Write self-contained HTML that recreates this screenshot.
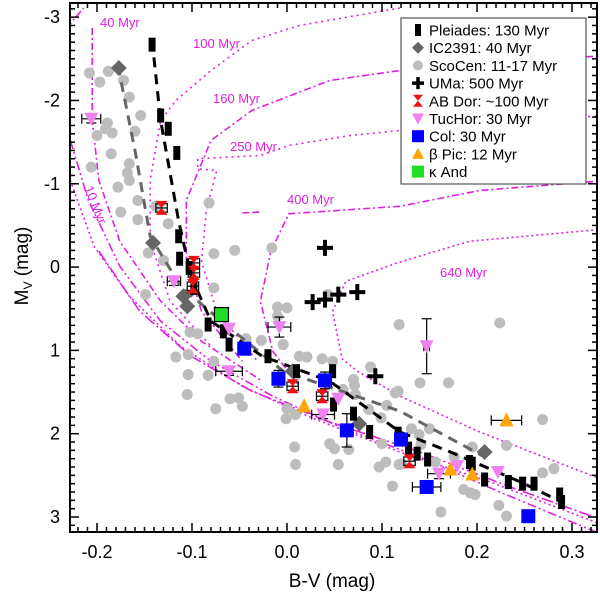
<!DOCTYPE html>
<html><head><meta charset="utf-8"><style>
body{margin:0;background:#fff}
svg text{font-family:"Liberation Sans",sans-serif}
</style></head><body>
<svg id="chart" width="600" height="596" xmlns="http://www.w3.org/2000/svg"></svg>
<script>
const pleBV=[-0.142,-0.133,-0.125,-0.116,-0.114,-0.113,-0.103,-0.098,-0.083,-0.067,-0.061,-0.020,0.010,0.048,0.049,0.070,0.087,0.117,0.128,0.137,0.148,0.192,0.195,0.208,0.233,0.248,0.260,0.287,0.289];
const pleMV=[-2.67,-1.82,-1.66,-1.37,-0.37,-0.10,0.01,0.25,0.69,0.77,0.93,1.07,1.25,1.25,1.65,1.76,1.98,2.00,2.18,2.24,2.31,2.34,2.36,2.55,2.58,2.60,2.60,2.73,2.82];
const icBV=[-0.177,-0.141,-0.109,-0.105,0.006,0.076,0.208];
const icMV=[-2.39,-0.29,0.35,0.47,1.25,1.88,2.22];
const scoBV=[-0.208,-0.197,-0.188,-0.172,-0.166,-0.154,-0.189,-0.191,-0.200,-0.184,-0.160,-0.185,-0.166,-0.206,-0.168,-0.166,-0.178,-0.157,-0.175,-0.157,-0.138,-0.125,-0.082,-0.077,-0.055,-0.016,-0.146,-0.130,-0.077,-0.149,-0.117,-0.104,-0.105,-0.075,-0.060,-0.051,-0.047,-0.104,-0.083,-0.102,-0.094,-0.077,-0.010,-0.010,0.000,-0.027,-0.004,0.013,0.021,0.037,0.048,-0.043,0.000,0.009,-0.001,0.008,0.009,0.045,0.050,0.065,0.054,0.059,0.070,0.071,0.072,0.088,0.099,0.097,0.104,0.111,0.118,0.117,0.086,0.118,0.043,0.224,0.140,0.170,0.114,0.105,0.131,0.139,0.150,0.141,0.100,0.121,0.186,0.193,0.198,0.162,0.223,0.231,0.231,0.269,0.281,0.269,0.195,0.176,0.156];
const scoMV=[-2.33,-2.22,-2.35,-2.24,-2.04,-1.82,-1.73,-1.66,-1.58,-1.61,-1.63,-1.36,-1.24,-1.20,-1.13,-1.04,-0.96,-0.80,-0.66,-0.57,-0.73,-0.52,-0.77,-0.16,-0.20,-0.23,-0.17,-0.08,0.25,0.33,1.08,1.05,1.53,1.70,1.58,1.57,1.67,1.29,1.30,0.78,0.80,1.13,0.48,0.59,0.49,0.88,0.93,1.07,1.08,1.10,1.13,0.86,1.70,1.77,1.82,2.16,2.37,2.12,2.18,2.19,2.37,1.47,1.35,1.42,1.53,1.20,1.81,2.40,2.34,2.63,0.69,1.49,1.71,2.37,0.33,0.67,1.39,1.39,1.51,1.66,1.94,2.01,1.94,2.13,2.12,2.36,2.67,2.71,2.73,2.94,2.86,2.99,2.14,1.83,2.42,2.47,2.16,2.28,2.34];
const umaBV=[0.027,0.040,0.054,0.074,0.093,0.040];
const umaMV=[0.42,0.39,0.33,0.30,1.31,-0.23];
const abBV=[-0.132,-0.098,-0.098,-0.099,0.006,0.037,0.129];
const abMV=[-0.71,-0.05,0.07,0.23,1.43,1.55,2.33];
const tucBV=[-0.206,-0.119,-0.061,-0.008,-0.061,0.054,0.038,0.147,0.160,0.179,0.222];
const tucMV=[-1.78,0.17,0.74,0.72,1.25,1.58,1.77,0.95,2.48,2.39,2.46];
const tucXE=[0.010,0.007,0,0.012,0.014,0,0.012,0.003,0.012,0,0];
const tucYE=[0.05,0.05,0,0.12,0.05,0,0.05,0.33,0.06,0,0];
const colBV=[-0.045,-0.009,0.040,0.063,0.120,0.147,0.254];
const colMV=[0.98,1.34,1.36,1.96,2.07,2.64,2.99];
const colXE=[0,0,0.005,0,0,0.015,0];
const colYE=[0,0.1,0.1,0.2,0,0,0];
const bpBV=[0.018,0.231,0.195,0.172];
const bpMV=[1.67,1.84,2.49,2.43];
const bpXE=[0,0.016,0,0];
const kBV=[-0.069];
const kMV=[0.57];
const pleLineBV=[-0.142,-0.133,-0.114,-0.101,-0.080,-0.026,0.045,0.119,0.172,0.246,0.289];
const pleLineMV=[-2.72,-1.76,-0.55,0.11,0.65,1.07,1.37,1.98,2.22,2.58,2.82];
const icLineBV=[-0.178,-0.160,-0.144,-0.112,-0.069,-0.004,0.119,0.208];
const icLineMV=[-2.42,-1.40,-0.37,0.23,0.65,1.25,1.73,2.28];
const isoBV=[
 [-0.232,-0.214],
 [-0.205,-0.205,-0.198,-0.176,-0.133,-0.090,-0.026],
 [0.119,0.013,-0.037,-0.080,-0.117,-0.133,-0.144,-0.144,-0.123,-0.080],
 [0.338,0.224,0.119,0.045,-0.037,-0.080,-0.106,-0.106,-0.090,-0.047],
 [0.338,0.172,0.067,0.002,-0.028,-0.094,-0.094,-0.074,-0.085,-0.090,-0.074,-0.031],
 [0.338,0.203,0.119,0.002,-0.017,-0.028,-0.015,0.013],
 [-0.047,-0.029],
 [0.338,0.192,0.116,0.062,0.048,0.058,0.074,0.119,0.203,0.338],
 [-0.228,-0.209,-0.176,-0.133,-0.080,-0.015,0.056,0.140,0.224,0.338],
 [-0.230,-0.203,-0.166,-0.112,-0.047,0.024,0.119,0.214,0.338],
 [-0.198,-0.155,-0.101,-0.037,0.045,0.140,0.235,0.338]
];
const isoMV=[
 [-2.87,-3.11],
 [-2.87,-1.76,-1.04,-0.31,0.41,0.89,1.37],
 [-3.11,-2.90,-2.72,-2.36,-2.00,-1.76,-1.04,-0.31,0.41,0.95],
 [-2.54,-2.46,-2.36,-2.24,-1.88,-1.52,-0.80,-0.07,0.53,1.13],
 [-1.82,-1.70,-1.58,-1.46,-1.34,-1.30,-1.18,-1.16,-0.67,-0.07,0.53,1.13],
 [-1.04,-0.92,-0.73,-0.64,-0.19,0.41,1.01,1.43],
 [-0.65,-0.66],
 [-0.46,-0.31,-0.05,0.17,0.53,1.10,1.25,1.55,1.98,2.58],
 [-1.52,-0.80,-0.01,0.65,1.13,1.55,1.92,2.28,2.70,3.24],
 [-1.10,-0.25,0.35,0.95,1.43,1.80,2.22,2.58,3.12],
 [-0.19,0.53,1.07,1.49,1.86,2.22,2.64,3.06]
];
const isoDash=["7,3,2,3","7,3,2,3","2,4","7,3,2,3","2,4","7,3,2,3","7,3","2,3","9,3,2,3,2,3","2,3","12,3,2,3"];
const xTicks=[-0.2,-0.1,0.0,0.1,0.2,0.3];
const xTickLabels=["-0.2","-0.1","0.0","0.1","0.2","0.3"];
const yTicks=[-3,-2,-1,0,1,2,3];
const yTickLabels=["-3","-2","-1","0","1","2","3"];

const L=70,R=597,T=3,B=532,X0=-0.2284,X1=0.3263,Y0=-3.17,Y1=3.18;
const X=v=>L+(v-X0)/(X1-X0)*(R-L);
const Y=v=>T+(v-Y0)/(Y1-Y0)*(B-T);
const svg=document.getElementById('chart');
const NS='http://www.w3.org/2000/svg';
function mk(tag,at,parent){const e=document.createElementNS(NS,tag);for(const k in at)e.setAttribute(k,at[k]);(parent||svg).appendChild(e);return e;}
const defs=mk('defs',{});const cp=mk('clipPath',{id:'clip'},defs);mk('rect',{x:L,y:T,width:R-L,height:B-T},cp);
const plot=mk('g',{'clip-path':'url(#clip)'});



isoBV.forEach((bv,i)=>{
 const p=mk('polyline',{points:bv.map((b,j)=>X(b)+','+Y(isoMV[i][j])).join(' '),fill:'none',stroke:'#e020e0','stroke-width':1.6,'stroke-dasharray':isoDash[i]},plot);
 
 
});
scoBV.forEach((b,i)=>{
 const c=mk('circle',{cx:X(b),cy:Y(scoMV[i]),r:5.5,fill:'#bdbdbd'},plot);
 
 
});
const l1=mk('polyline',{points:icLineBV.map((b,j)=>X(b)+','+Y(icLineMV[j])).join(' '),fill:'none',stroke:'#666','stroke-width':3,'stroke-dasharray':'10,7'},plot);


const l2=mk('polyline',{points:pleLineBV.map((b,j)=>X(b)+','+Y(pleLineMV[j])).join(' '),fill:'none',stroke:'#000','stroke-width':3,'stroke-dasharray':'10,7'},plot);


icBV.forEach((b,i)=>{
 const x=X(b),y=Y(icMV[i]);
 const d=mk('polygon',{points:`${x},${y-8} ${x+8},${y} ${x},${y+8} ${x-8},${y}`,fill:'#666'},plot);
 
 
});
pleBV.forEach((b,i)=>{
 const r=mk('rect',{x:X(b)-3.5,y:Y(pleMV[i])-7,width:7,height:14,fill:'#000'},plot);
 
 
});
function errbar(x,y,xe,ye){
 const g=mk('g',{stroke:'#000','stroke-width':1.2},plot);
 
 
 if(xe>0){const a=X(x-xe),b=X(x+xe);mk('line',{x1:a,x2:b,y1:Y(y),y2:Y(y)},g);mk('line',{x1:a,x2:a,y1:Y(y)-5,y2:Y(y)+5},g);mk('line',{x1:b,x2:b,y1:Y(y)-5,y2:Y(y)+5},g);}
 if(ye>0){const a=Y(y-ye),b=Y(y+ye);mk('line',{x1:X(x),x2:X(x),y1:a,y2:b},g);mk('line',{x1:X(x)-5,x2:X(x)+5,y1:a,y2:a},g);mk('line',{x1:X(x)-5,x2:X(x)+5,y1:b,y2:b},g);}
}
umaBV.forEach((b,i)=>{
 const x=X(b),y=Y(umaMV[i]);
 const p=mk('path',{d:`M${x-8},${y}H${x+8}M${x},${y-8}V${y+8}`,stroke:'#000','stroke-width':4},plot);
 
 
});
abBV.forEach((b,i)=>{
 const x=X(b),y=Y(abMV[i]);
 errbar(b,abMV[i],0.006,0.05);
 const p=mk('polygon',{points:`${x-6},${y-7} ${x+6},${y-7} ${x},${y} ${x+6},${y+7} ${x-6},${y+7} ${x},${y}`,fill:'#ee1111'},plot);
 
 
});
tucBV.forEach((b,i)=>{
 errbar(b,tucMV[i],tucXE[i],tucYE[i]);
 const x=X(b),y=Y(tucMV[i]);
 const p=mk('polygon',{points:`${x-7},${y-6} ${x+7},${y-6} ${x},${y+7}`,fill:'#ee82ee'},plot);
 
 
});
colBV.forEach((b,i)=>{
 errbar(b,colMV[i],colXE[i],colYE[i]);
 const r=mk('rect',{x:X(b)-7,y:Y(colMV[i])-7,width:14,height:14,fill:'#0000ff'},plot);
 
 
});
bpBV.forEach((b,i)=>{
 errbar(b,bpMV[i],bpXE[i],0);
 const x=X(b),y=Y(bpMV[i]);
 const p=mk('polygon',{points:`${x-7},${y+6} ${x+7},${y+6} ${x},${y-8}`,fill:'#ffa500'},plot);
 
 
});
kBV.forEach((b,i)=>{
 const r=mk('rect',{x:X(b)-7,y:Y(kMV[i])-7,width:14,height:14,fill:'#22dd22',stroke:'#000','stroke-width':1.2},plot);
 
 
});
[["40 Myr",100,27,0],["100 Myr",193,48,0],["160 Myr",213,103,0],["250 Myr",230,151,0],["400 Myr",287,204,0],["640 Myr",440,277,0],["10 Myr",84,188,68]].forEach(a=>{
 const t=mk('text',{x:a[1],y:a[2],fill:'#e020e0','font-size':13,transform:a[3]?`rotate(${a[3]} ${a[1]} ${a[2]})`:''});
 t.textContent=a[0];
 
 
});
const ax=mk('g',{stroke:'#000','stroke-width':1.5});


mk('rect',{x:L,y:T,width:R-L,height:B-T,fill:'none','stroke-width':2},ax);
for(let k=-22;k<=32;k++){const v=k/100,x=X(v);const maj=k%10===0;const len=maj?9:5;
 mk('line',{x1:x,x2:x,y1:B,y2:B-len},ax);mk('line',{x1:x,x2:x,y1:T,y2:T+len},ax);}
for(let k=-31;k<=31;k++){const v=k/10,y=Y(v);const maj=k%10===0;const len=maj?9:5;
 mk('line',{x1:L,x2:L+len,y1:y,y2:y},ax);mk('line',{x1:R,x2:R-len,y1:y,y2:y},ax);}
xTicks.forEach((v,i)=>{const t=mk('text',{x:X(v),y:558,'text-anchor':'middle','font-size':18});t.textContent=xTickLabels[i];
 
 });
yTicks.forEach((v,i)=>{const t=mk('text',{x:60,y:Y(v)+6,'text-anchor':'end','font-size':18});t.textContent=yTickLabels[i];
 
 });
const xt=mk('text',{x:332,y:587,'text-anchor':'middle','font-size':19});xt.textContent='B-V (mag)';


const yt=mk('text',{x:0,y:0,'text-anchor':'middle','font-size':19,transform:'translate(28,266) rotate(-90)'});
yt.innerHTML='M<tspan font-size="12" dy="4">V</tspan><tspan dy="-4"> (mag)</tspan>';


const lg=mk('g',{});


mk('rect',{x:401,y:18,width:185,height:166,fill:'#fff',stroke:'#555','stroke-width':1.2},lg);
const labels=["Pleiades: 130 Myr","IC2391: 40 Myr","ScoCen: 11-17 Myr","UMa: 500 Myr","AB Dor: ~100 Myr","TucHor: 30 Myr","Col: 30 Myr","\u03b2 Pic: 12 Myr","\u03ba And"];
labels.forEach((s,i)=>{
 const y=30+i*17.7,x=418;
 const e=mk('g',{},lg);
 
 
 if(i===0)mk('rect',{x:x-3,y:y-6,width:6,height:12,fill:'#000'},e);
 if(i===1)mk('polygon',{points:`${x},${y-6} ${x+6},${y} ${x},${y+6} ${x-6},${y}`,fill:'#666'},e);
 if(i===2)mk('circle',{cx:x,cy:y,r:5,fill:'#bdbdbd'},e);
 if(i===3)mk('path',{d:`M${x-6},${y}H${x+6}M${x},${y-6}V${y+6}`,stroke:'#000','stroke-width':3.5},e);
 if(i===4)mk('polygon',{points:`${x-5},${y-6} ${x+5},${y-6} ${x},${y} ${x+5},${y+6} ${x-5},${y+6} ${x},${y}`,fill:'#ee1111'},e);
 if(i===5)mk('polygon',{points:`${x-6},${y-5} ${x+6},${y-5} ${x},${y+6}`,fill:'#ee82ee'},e);
 if(i===6)mk('rect',{x:x-6,y:y-6,width:12,height:12,fill:'#0000ff'},e);
 if(i===7)mk('polygon',{points:`${x-6},${y+5} ${x+6},${y+5} ${x},${y-6}`,fill:'#ffa500'},e);
 if(i===8)mk('rect',{x:x-6,y:y-6,width:12,height:12,fill:'#22dd22'},e);
 const t=mk('text',{x:429,y:y+5.5,'font-size':15},e);t.textContent=s;
});
</script>
</body></html>
